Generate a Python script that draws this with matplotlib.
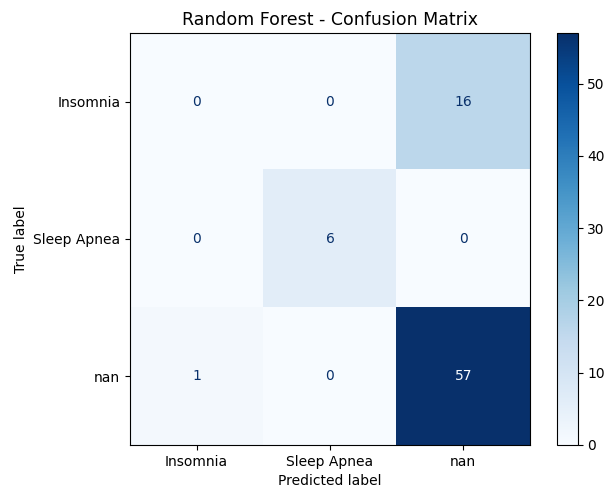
import numpy as np
import matplotlib
matplotlib.use("Agg")
import matplotlib.pyplot as plt

labels = ["Insomnia", "Sleep Apnea", "nan"]
counts = [
    [0, 0, 16],
    [0, 6, 0],
    [1, 0, 57],
]

cm = np.array(counts)
cmap = plt.get_cmap("Blues")

fig = plt.figure(figsize=(6.06, 4.93), dpi=100)
ax = fig.add_axes([0.2145, 0.0974, 0.660, 0.8357])
cax = fig.add_axes([0.919, 0.0974, 0.034, 0.8357])

im = ax.imshow(cm, interpolation="nearest", cmap=cmap, aspect="auto")
cb = fig.colorbar(im, cax=cax)

thresh = (cm.max() + cm.min()) / 2.0
for i in range(cm.shape[0]):
    for j in range(cm.shape[1]):
        color = cmap(0) if cm[i, j] >= thresh else cmap(256)
        ax.text(j, i, format(cm[i, j], "d"), ha="center", va="center", color=color)

ax.set_xticks(np.arange(len(labels)), labels)
ax.set_yticks(np.arange(len(labels)), labels)
ax.set_xlabel("Predicted label")
ax.set_ylabel("True label")
ax.set_title("Random Forest - Confusion Matrix", fontsize=12.5)
ax.set_ylim(len(labels) - 0.5, -0.5)

fig.savefig("out.png", dpi=100)
